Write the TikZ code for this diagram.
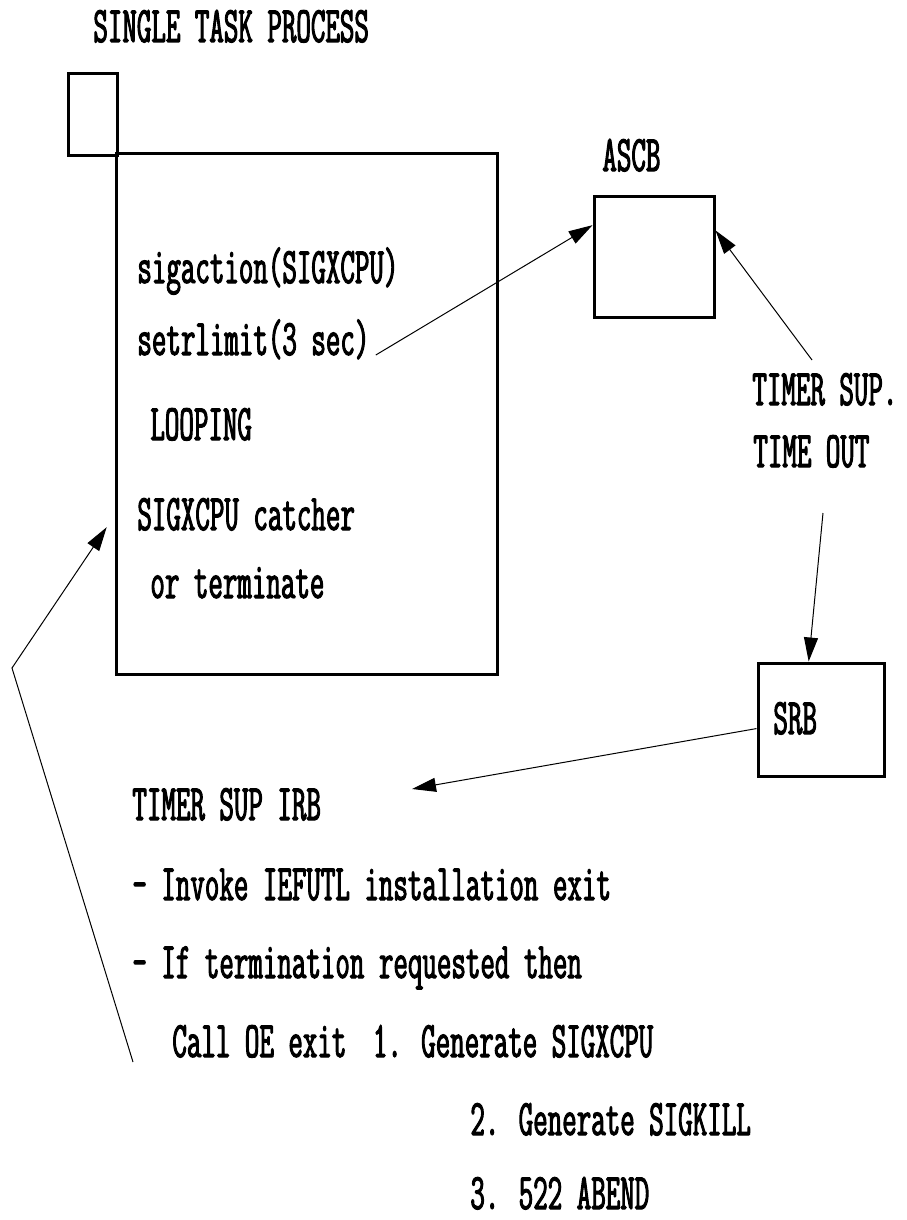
\documentclass[tikz,border=0pt]{standalone}
\usepackage{fontspec}
\newfontfamily\chartfont{Latin Modern Mono}[FakeStretch=0.55,FakeBold=2]
\usepackage{tikz}
\usetikzlibrary{positioning}
\usetikzlibrary{arrows.meta}

\tikzset{
    lbl/.style={anchor=base west,inner sep=0pt,text depth=0pt,font=\fontsize{25.6}{30}\chartfont},
    blk/.style={draw,line width=1.5pt,inner sep=0pt},
    arr/.style={-{Triangle[length=12pt,width=7pt]},line width=0.5pt},
}

\begin{document}
\begin{tikzpicture}[x=0.5pt,y=-0.5pt]
    \useasboundingbox (0,0) rectangle (906,1220);

    \node[lbl] (title) at (93,42) {SINGLE TASK PROCESS};

    % boxes
    \node[blk,minimum width=24.5pt,minimum height=40.5pt] (tab) at (92.5,114.5) {};
    \node[blk,minimum width=190.5pt,minimum height=260.5pt] (task) at (306.5,413.5) {};
    \node[blk,minimum width=60pt,minimum height=60.5pt] (ascb) at (654,256.5) {};
    \node[blk,minimum width=63pt,minimum height=56.5pt] (srb) at (821,719.5) {};

    \node[lbl] (ascblbl) at (602,171) {ASCB};
    \node[lbl] (srblbl) at (773,734) {SRB};

    % text in the task box
    \foreach \name/\x/\y/\txt in {sigact/137/283/sigaction(SIGXCPU),
                                  setrl/137/355/setrlimit(3 sec),
                                  loop/150/440/LOOPING,
                                  catch/137/530/SIGXCPU catcher,
                                  term/150/598/or terminate}
        \node[lbl] (\name) at (\x,\y) {\txt};

    \node[lbl] (tsup) at (752,405) {TIMER SUP.};
    \node[lbl] (tout) at (753,467) {TIME OUT};

    % timer supervisor IRB
    \foreach \name/\x/\y/\txt in {irb/132/820/TIMER SUP IRB,
                                  invoke/132/900/- Invoke IEFUTL installation exit,
                                  iftrm/132/978/- If termination requested then,
                                  call/172/1057/Call OE exit\hspace{6pt} 1. Generate SIGXCPU,
                                  gen2/470/1135/2. Generate SIGKILL,
                                  gen3/470/1209/3. 522 ABEND}
        \node[lbl] (\name) at (\x,\y) {\txt};

    \coordinate (tsupfoot) at (812,360);
    \coordinate (toutfoot) at (823,513);
    \coordinate (irbtip) at (412,789);
    \coordinate (fbtail) at (133,1062);
    \coordinate (fbturn) at (12,668);

    \path[arr]
        ([xshift=3pt]setrl.base east) edge (ascb.153)
        (tsupfoot) edge (ascb.23)
        (toutfoot) edge (srb.102)
        (srb.188) edge (irbtip);

    \draw[arr,shorten >=7pt] (fbtail) -- (fbturn) -- (task.208);
\end{tikzpicture}
\end{document}
